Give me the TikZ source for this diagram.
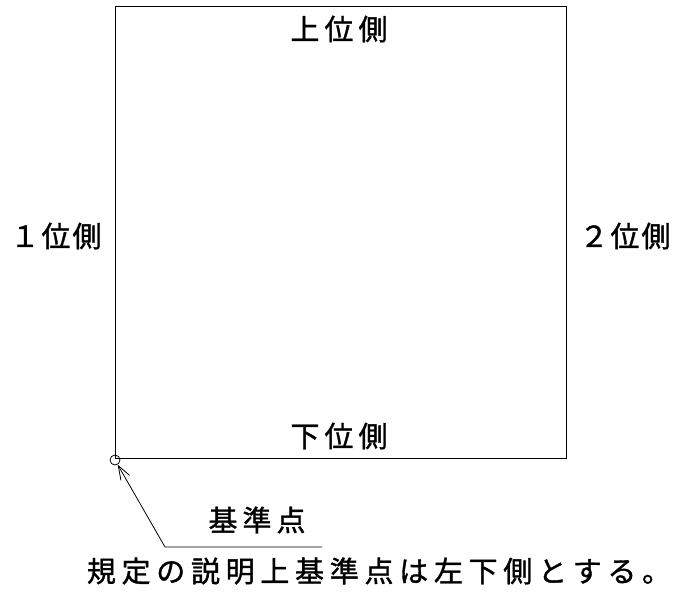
\documentclass[tikz,border=0pt]{standalone}
\usepackage{fontspec}
\setmainfont{Noto Sans CJK JP}[FakeBold=1.2]
\usetikzlibrary{arrows.meta}
\makeatletter
\def\cells#1#2{\def\cellw{#1}\cells@a#2\relax}
\def\cells@a#1{\ifx#1\relax\else\hbox to \cellw{\hss#1\hss}\expandafter\cells@a\fi}
\makeatother
\tikzset{
  lbl/.style={inner sep=0pt, font=\fontsize{29pt}{32pt}\selectfont},
  frame/.style={draw=black, line width=1pt},
  leader/.style={draw=black, line width=0.8pt},
}
\begin{document}
\begin{tikzpicture}[x=1pt,y=-1pt]
\useasboundingbox (0,0) rectangle (679,593);
\node[frame, minimum width=451pt, minimum height=451pt, inner sep=0pt, anchor=north west] (sq) at (114.5,6.5) {};
\node[lbl] (top) at (339,29) {\cells{34pt}{上位側}};
\node[lbl] (bot) at (339,436) {\cells{34pt}{下位側}};
\node[lbl] (left) at (56,236) {\cells{31pt}{１位側}};
\node[lbl] (right) at (625,236) {\cells{31pt}{２位側}};
\node[circle, draw=black, line width=0.8pt, minimum size=10pt, inner sep=0pt] (base) at (115,460) {};
\coordinate (bend) at (165,547);
\coordinate (lend) at (322,547);
\draw[leader, {Straight Barb[length=14pt,width=10pt]}-] (base) -- (bend) -- (lend);
\node[lbl] (kijun) at (257,520) {\cells{34pt}{基準点}};
\node[lbl] (note) at (379,571) {\cells{34.7pt}{規定の説明上基準点は左下側とする。}};
\end{tikzpicture}
\end{document}
